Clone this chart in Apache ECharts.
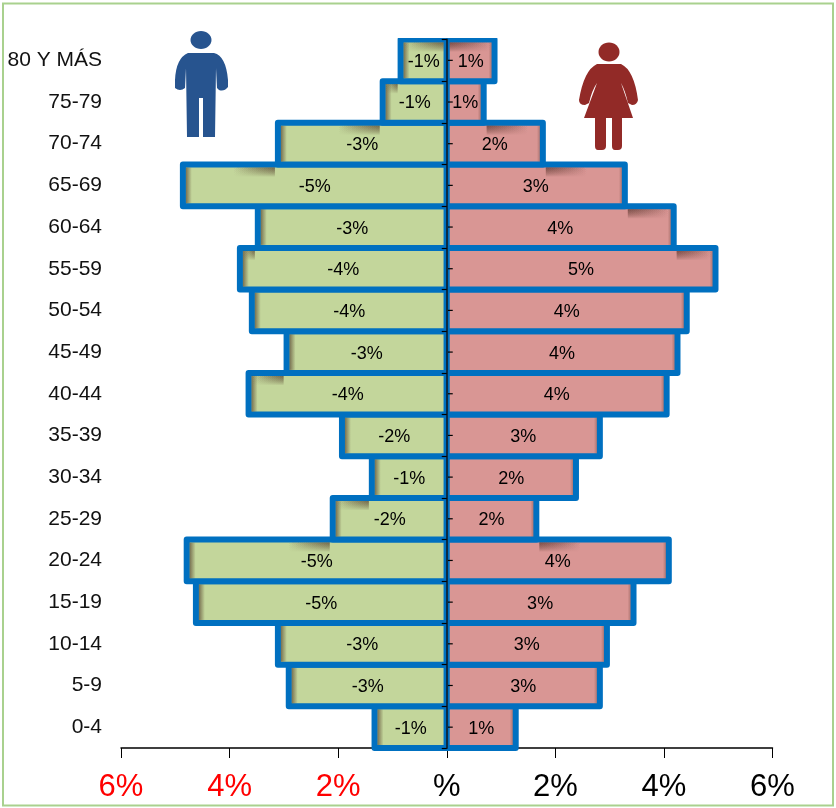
<!DOCTYPE html>
<html>
<head>
<meta charset="utf-8">
<title>Pirámide de población</title>
<script src="https://cdn.jsdelivr.net/npm/echarts@6/dist/echarts.min.js"></script>
<style>
  html, body { margin: 0; padding: 0; background: #fff; }
  #chart { width: 836px; height: 808px; }
</style>
</head>
<body>
<div id="chart"></div>
<script>
// de abajo hacia arriba, igual que el eje
const ageGroups = ["0-4", "5-9", "10-14", "15-19", "20-24", "25-29", "30-34", "35-39", "40-44", "45-49", "50-54", "55-59", "60-64", "65-69", "70-74", "75-79", "80 Y MÁS"];
const maleValues = [-1.33, -2.91, -3.11, -4.62, -4.79, -2.1, -1.38, -1.93, -3.65, -2.95, -3.59, -3.81, -3.48, -4.86, -3.11, -1.18, -0.85];
const femaleValues = [1.27, 2.82, 2.95, 3.44, 4.09, 1.65, 2.38, 2.82, 4.05, 4.25, 4.42, 4.95, 4.18, 3.28, 1.77, 0.68, 0.88];
const xTickValues = [-6, -4, -2, 0, 2, 4, 6];
const xTickLabels = ["6%", "4%", "2%", "%", "2%", "4%", "6%"];

const BLUE = "#0070c0";
const FONT = '"Liberation Sans", Arial, sans-serif';
const BORDER = 6;

echarts.graphic.registerShape("manIcon", echarts.graphic.extendPath(
  "M188,53 L214,53 Q226,56 228,80 L228,87 Q224,92 219,90 L217,88 L216,68 L215,137 L203,137 L203,98 L199,98 L199,137 L187,137 L186,68 L185,88 Q180,92 175,88 L175,80 Q176,58 188,53 Z", {}));
echarts.graphic.registerShape("womanIcon", echarts.graphic.extendPath(
  "M597,64 L621,64 Q634,70 638,100 Q637,105 632,105 L628,103 Q625,90 621,83 L633,118 L622,118 L622,146 Q622,150 618,150 L615,150 Q612,150 612,146 L612,118 L606,118 L606,146 Q606,150 602,150 L598,150 Q595,150 595,146 L595,118 L584,118 L597,83 Q592,90 589,103 L585,105 Q579,105 579,100 Q584,70 597,64 Z", {}));

function fade(fromLeft, alpha) {
  return {
    type: "linear", x: fromLeft ? 0 : 1, y: 0, x2: fromLeft ? 1 : 0, y2: 0,
    colorStops: [
      { offset: 0, color: "rgba(60,30,20," + alpha + ")" },
      { offset: 1, color: "rgba(60,30,20,0)" },
    ],
  };
}

// la barra de ECharts mete el borde hacia dentro; aqui el borde va centrado en el valor
function renderBar(values, color, edgeAlpha, edgeWidth) {
  return function (params, api) {
    const i = api.value(0);
    const val = values[i];
    const up = i + 1 < values.length ? values[i + 1] : 0;
    const dir = val < 0 ? -1 : 1;
    const band = api.size([0, 1])[1];
    const zero = api.coord([0, i]);
    const end = api.coord([val, i]);
    const upEnd = api.coord([up, i]);
    const top = end[1] - band / 2;
    const inner = end[0] - dir * BORDER / 2;
    const innerTop = top + BORDER / 2;

    const children = [{
      type: "rect",
      shape: { x: Math.min(zero[0], end[0]), y: top, width: Math.abs(end[0] - zero[0]), height: band },
      style: { fill: color, stroke: BLUE, lineWidth: BORDER, lineJoin: "round" },
    }];
    // sombra del borde exterior
    children.push({
      type: "rect",
      shape: { x: Math.min(inner, inner - dir * edgeWidth), y: innerTop, width: edgeWidth, height: band - BORDER },
      style: { fill: fade(dir < 0, edgeAlpha) },
    });
    // sombra de la barra de arriba
    if (Math.abs(val) > Math.abs(up)) {
      const start = upEnd[0] + dir * BORDER / 2;
      const len = Math.min(Math.abs(inner - start), 42);
      if (len > 0) {
        const x1 = start + dir * len;
        for (let h = 9; h >= 1; h--) {
          children.push({
            type: "rect",
            shape: { x: Math.min(start, x1), y: innerTop, width: len, height: h },
            style: { fill: fade(dir > 0, 0.085) },
          });
        }
      }
    }
    // marca al centro de la fila, a la derecha de la linea central
    if (dir > 0) {
      children.push({
        type: "line",
        shape: { x1: zero[0], y1: end[1], x2: zero[0] + 6, y2: end[1] },
        style: { stroke: "#000", lineWidth: 1.2 },
      });
    }
    children.push({
      type: "text",
      style: {
        text: Math.round(val) + "%",
        x: (zero[0] + end[0]) / 2,
        y: end[1] + 1.5,
        align: "center",
        verticalAlign: "middle",
        fill: "#000",
        fontFamily: FONT,
        fontSize: 18,
      },
    });
    return {
      type: "group",
      clipPath: { type: "rect", shape: { x: 0, y: 38, width: 836, height: 770 } },
      children: children,
    };
  };
}

function barSeries(name, values, color, edgeAlpha, edgeWidth) {
  return {
    name: name,
    type: "custom",
    z: 2,
    silent: true,
    clip: false,
    renderItem: renderBar(values, color, edgeAlpha, edgeWidth),
    encode: { x: 1, y: 0 },
    data: values.map(function (v, i) { return [i, v]; }),
  };
}

const chart = echarts.init(document.getElementById("chart"), null, { renderer: "canvas" });

chart.setOption({
  animation: false,
  backgroundColor: "#fff",
  grid: { left: 121, right: 63.5, top: 39.5, bottom: 60, containLabel: false },
  xAxis: {
    type: "value",
    min: -6,
    max: 6,
    interval: 2,
    z: 1,
    splitLine: { show: false },
    axisLine: { show: true, onZero: false, lineStyle: { color: "#000", width: 1.5 } },
    axisTick: { show: true, length: 10, lineStyle: { color: "#000", width: 1 } },
    axisLabel: {
      margin: 24,
      fontSize: 31,
      fontFamily: FONT,
      color: function (v) { return v < 0 ? "#ff0000" : "#000"; },
      formatter: function (v) { return xTickLabels[xTickValues.indexOf(v)]; },
    },
  },
  yAxis: [
    {
      // solo textos, a la izquierda
      type: "category",
      data: ageGroups,
      position: "left",
      axisLine: { show: false, onZero: false },
      axisTick: { show: false },
      axisLabel: { margin: 19, fontSize: 21, color: "#111", fontFamily: FONT },
    },
    {
      // linea central con marcas en los limites
      type: "category",
      data: ageGroups,
      position: "left",
      z: 5,
      axisLine: { show: true, onZero: true, lineStyle: { color: "#0b2b45", width: 2 } },
      axisTick: { show: true, length: 5, lineStyle: { color: "#000", width: 1.2 } },
      axisLabel: { show: false },
    },
  ],
  series: [
    barSeries("Hombres", maleValues, "#c3d69b", 0.55, 6),
    barSeries("Mujeres", femaleValues, "#d99694", 0.25, 3),
  ],
  graphic: [
    {
      type: "rect",
      silent: true,
      z: 0,
      shape: { x: 3, y: 3.5, width: 830, height: 802 },
      style: { fill: "none", stroke: "#a9d18e", lineWidth: 2 },
    },
    // hombre
    { type: "ellipse", silent: true, z: 10, shape: { cx: 201, cy: 40, rx: 10.5, ry: 9 }, style: { fill: "#27548f" } },
    { type: "manIcon", silent: true, z: 10, style: { fill: "#27548f" } },
    // mujer
    { type: "ellipse", silent: true, z: 10, shape: { cx: 609, cy: 52, rx: 10.5, ry: 9.5 }, style: { fill: "#922a27" } },
    { type: "womanIcon", silent: true, z: 10, style: { fill: "#922a27" } },
  ],
});
</script>
</body>
</html>
